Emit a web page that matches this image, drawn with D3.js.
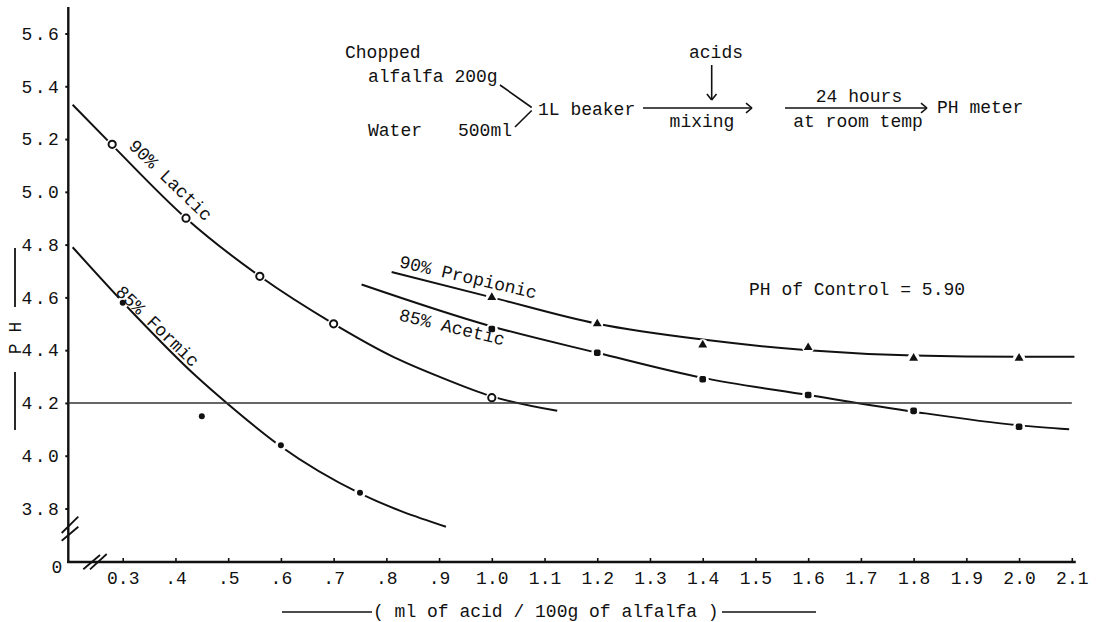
<!DOCTYPE html>
<html>
<head>
<meta charset="utf-8">
<script src="https://cdn.jsdelivr.net/npm/d3@7/dist/d3.min.js"></script>
<style>
  html, body { margin: 0; padding: 0; background: #fff; }
  svg { display: block; }
  text { font-family: "Liberation Mono", "DejaVu Sans Mono", monospace; fill: #111; }
</style>
</head>
<body>
<svg id="chart" width="1108" height="622"></svg>
<script>
// pH of chopped alfalfa after 24 h with added acid (ml acid / 100 g alfalfa)

// measured points
const lacticPts    = [[0.28, 5.18], [0.42, 4.90], [0.56, 4.68], [0.70, 4.50], [1.00, 4.22]];
const formicPts    = [[0.30, 4.58], [0.45, 4.15], [0.60, 4.04], [0.75, 3.86]];
const aceticPts    = [[1.00, 4.48], [1.20, 4.39], [1.40, 4.29], [1.60, 4.23], [1.80, 4.17], [2.00, 4.11]];
const propionicPts = [[1.00, 4.60], [1.20, 4.50], [1.40, 4.42], [1.60, 4.41], [1.80, 4.37], [2.00, 4.37]];

// hand-fitted trend curves
const lacticFit    = [[0.205, 5.33], [0.28, 5.177], [0.42, 4.90], [0.56, 4.68], [0.70, 4.50], [0.815, 4.373], [0.90, 4.30], [1.00, 4.225], [1.124, 4.17]];
const formicFit    = [[0.205, 4.79], [0.32, 4.54], [0.44, 4.30], [0.50, 4.195], [0.60, 4.035], [0.75, 3.857], [0.913, 3.731]];
const aceticFit    = [[0.753, 4.649], [1.00, 4.49], [1.20, 4.39], [1.40, 4.295], [1.60, 4.23], [1.80, 4.167], [2.00, 4.115], [2.095, 4.10]];
const propionicFit = [[0.81, 4.696], [1.00, 4.60], [1.20, 4.50], [1.40, 4.44], [1.60, 4.40], [1.80, 4.38], [2.00, 4.375], [2.105, 4.375]];

const targetPH = 4.2;

// axes
const xTickVals   = [0.3, 0.4, 0.5, 0.6, 0.7, 0.8, 0.9, 1.0, 1.1, 1.2, 1.3, 1.4, 1.5, 1.6, 1.7, 1.8, 1.9, 2.0, 2.1];
const xTickLabels = ["0.3", ".4", ".5", ".6", ".7", ".8", ".9", "1.0", "1.1", "1.2", "1.3", "1.4", "1.5", "1.6", "1.7", "1.8", "1.9", "2.0", "2.1"];
const yTickVals   = [3.8, 4.0, 4.2, 4.4, 4.6, 4.8, 5.0, 5.2, 5.4, 5.6];
const yTickLabels = ["3.8", "4.0", "4.2", "4.4", "4.6", "4.8", "5.0", "5.2", "5.4", "5.6"];

const svg = d3.select("#chart");
const ink = "#111";

const x = d3.scaleLinear().domain([0.2, 2.1]).range([70, 1071.8]);
const y = d3.scaleLinear().domain([3.8, 5.6]).range([508.5, 33.5]);

const axisX0 = 68.3;   // vertical axis position
const axisY0 = 562;    // horizontal axis position (pH 0, broken scale)

// ---- axes ----
const gx = svg.append("g").attr("transform", `translate(0,${axisY0})`)
  .call(d3.axisBottom(x).tickValues(xTickVals)
    .tickFormat((d, i) => xTickLabels[i]).tickSizeInner(-4).tickSizeOuter(0).tickPadding(10));
gx.select(".domain").remove();
gx.selectAll(".tick line").attr("stroke", ink).attr("stroke-width", 1.6);
gx.selectAll(".tick text").attr("font-size", 18).attr("dy", "0.6em").attr("y", 11)
  .style("font-family", "Liberation Mono");

const gy = svg.append("g").attr("transform", `translate(${axisX0},0)`)
  .call(d3.axisLeft(y).tickValues(yTickVals)
    .tickFormat((d, i) => yTickLabels[i]).tickSizeInner(3).tickSizeOuter(0).tickPadding(4));
gy.select(".domain").remove();
gy.selectAll(".tick line").attr("stroke", ink).attr("stroke-width", 2);
gy.selectAll(".tick text").attr("font-size", 18).attr("letter-spacing", 2.5)
  .style("font-family", "Liberation Mono");

// axis lines
svg.append("line").attr("x1", axisX0).attr("x2", axisX0).attr("y1", 7).attr("y2", axisY0 + 1)
  .attr("stroke", ink).attr("stroke-width", 2.4);
svg.append("line").attr("x1", axisX0 - 1).attr("x2", x(2.1) + 4).attr("y1", axisY0).attr("y2", axisY0)
  .attr("stroke", ink).attr("stroke-width", 2.4);

// scale-break marks
const breaks = [
  [[61.7, 533], [78.3, 516.7]], [[61.7, 540.7], [78.3, 526.7]],
  [[83.3, 569.3], [100, 555]], [[90, 569.3], [106.7, 554]]
];
breaks.forEach(b => svg.append("line")
  .attr("x1", b[0][0]).attr("y1", b[0][1]).attr("x2", b[1][0]).attr("y2", b[1][1])
  .attr("stroke", ink).attr("stroke-width", 1.8));

svg.append("text").attr("x", 57).attr("y", 568).attr("text-anchor", "middle")
  .attr("dominant-baseline", "central").attr("font-size", 18).text("0");

// axis titles
svg.append("text").attr("transform", "translate(16,338) rotate(-90)")
  .attr("text-anchor", "middle").attr("dominant-baseline", "central")
  .attr("font-size", 18).text("P H");
svg.append("line").attr("x1", 15).attr("x2", 15).attr("y1", 248).attr("y2", 307).attr("stroke", ink).attr("stroke-width", 1.8);
svg.append("line").attr("x1", 15).attr("x2", 15).attr("y1", 372).attr("y2", 430).attr("stroke", ink).attr("stroke-width", 1.8);

svg.append("text").attr("x", 373).attr("y", 612).attr("dominant-baseline", "central")
  .attr("font-size", 18).text("( ml of acid / 100g of alfalfa )");
svg.append("line").attr("x1", 282).attr("x2", 372).attr("y1", 612).attr("y2", 612).attr("stroke", ink).attr("stroke-width", 1.6);
svg.append("line").attr("x1", 722).attr("x2", 816).attr("y1", 612).attr("y2", 612).attr("stroke", ink).attr("stroke-width", 1.6);

// ---- curves ----
const line = d3.line().x(d => x(d[0])).y(d => y(d[1])).curve(d3.curveMonotoneX);
[lacticFit, formicFit, aceticFit, propionicFit].forEach(f =>
  svg.append("path").attr("d", line(f)).attr("fill", "none")
    .attr("stroke", ink).attr("stroke-width", 2));

// small gaps in the lines around each plotted point
[lacticPts, formicPts, aceticPts, propionicPts].forEach(pts =>
  svg.append("g").selectAll("circle").data(pts).join("circle")
    .attr("cx", d => x(d[0])).attr("cy", d => y(d[1])).attr("r", 6).attr("fill", "#fff"));

// target pH reference line
svg.append("line").attr("x1", axisX0).attr("x2", x(2.1)).attr("y1", y(targetPH)).attr("y2", y(targetPH))
  .attr("stroke", "#333").attr("stroke-width", 1.4);

// ---- markers ----
svg.append("g").selectAll("circle").data(lacticPts).join("circle")
  .attr("cx", d => x(d[0])).attr("cy", d => y(d[1])).attr("r", 3.6)
  .attr("fill", "#fff").attr("stroke", ink).attr("stroke-width", 2);
svg.append("g").selectAll("circle").data(formicPts).join("circle")
  .attr("cx", d => x(d[0])).attr("cy", d => y(d[1])).attr("r", 3).attr("fill", ink);
svg.append("g").selectAll("rect").data(aceticPts).join("rect")
  .attr("x", d => x(d[0]) - 3.3).attr("y", d => y(d[1]) - 3.3)
  .attr("width", 6.6).attr("height", 6.6).attr("rx", 1.8).attr("fill", ink);
svg.append("g").selectAll("path").data(propionicPts).join("path")
  .attr("transform", d => `translate(${x(d[0])},${y(d[1])})`)
  .attr("d", d3.symbol(d3.symbolTriangle, 34)).attr("fill", ink);

// ---- curve labels ----
const curveLabels = [
  { text: "90% Lactic",    cx: 170, cy: 181, angle: 44 },
  { text: "85% Formic",    cx: 157, cy: 327, angle: 44 },
  { text: "90% Propionic", cx: 468, cy: 278, angle: 13 },
  { text: "85% Acetic",    cx: 452, cy: 328, angle: 13.4 }
];
svg.append("g").selectAll("text").data(curveLabels).join("text")
  .attr("transform", d => `translate(${d.cx},${d.cy}) rotate(${d.angle})`)
  .attr("text-anchor", "middle").attr("dominant-baseline", "central")
  .attr("font-size", 18).text(d => d.text);

svg.append("text").attr("x", 749).attr("y", 290).attr("dominant-baseline", "central")
  .attr("font-size", 18).text("PH of Control = 5.90");

// ---- procedure sketch ----
const note = (t, xx, yy, anchor = "start") => svg.append("text")
  .attr("x", xx).attr("y", yy).attr("text-anchor", anchor)
  .attr("dominant-baseline", "central").attr("font-size", 18).text(t);
note("Chopped", 345, 53);
note("alfalfa 200g", 368, 77);
note("Water", 368, 131);
note("500ml", 458, 131);
note("1L beaker", 538, 110);
note("acids", 716, 53, "middle");
note("mixing", 702, 122, "middle");
note("24 hours", 859, 97, "middle");
note("at room temp", 858, 122, "middle");
note("PH meter", 937, 108);

const seg = (x1, y1, x2, y2, w = 1.6) => svg.append("line")
  .attr("x1", x1).attr("y1", y1).attr("x2", x2).attr("y2", y2)
  .attr("stroke", ink).attr("stroke-width", w);
// bracket joining the two ingredients
seg(500, 85, 531.7, 107.5);
seg(531.7, 110.5, 515, 127);
// arrows
const arrowHead = (tx, ty, dir) => {
  const s = 6;
  if (dir === "right") {
    seg(tx - s, ty - s * 0.8, tx, ty); seg(tx - s, ty + s * 0.8, tx, ty);
  } else {
    seg(tx - s * 0.8, ty - s, tx, ty); seg(tx + s * 0.8, ty - s, tx, ty);
  }
};
seg(643, 108, 752, 108); arrowHead(752, 108, "right");
seg(711.7, 65, 711.7, 100); arrowHead(711.7, 100, "down");
seg(785, 108, 927, 108); arrowHead(927, 108, "right");
</script>
</body>
</html>
